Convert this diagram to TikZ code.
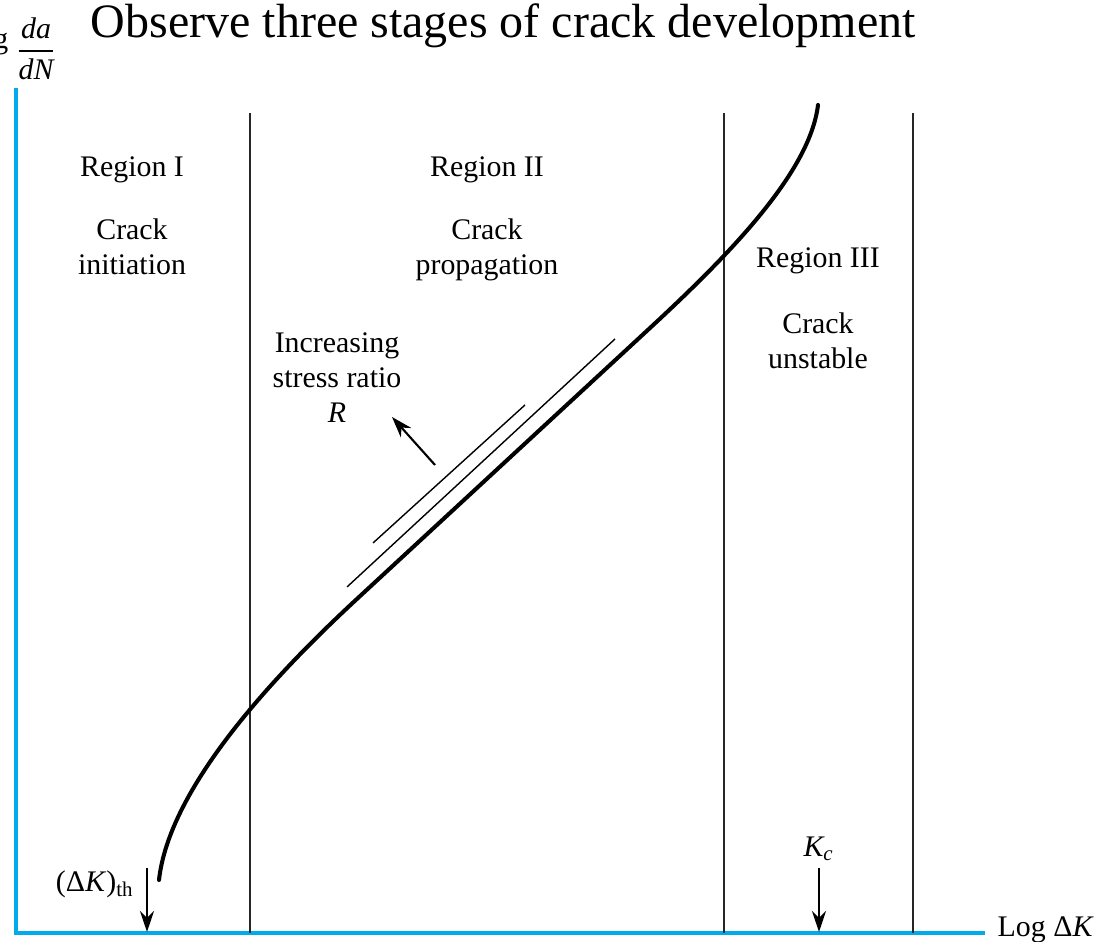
\documentclass[tikz,border=0pt]{standalone}
\usepackage{fontspec}
\setmainfont{Liberation Serif}
\usetikzlibrary{arrows.meta}
\definecolor{axisblue}{RGB}{0,170,235}
\newcommand{\lblsize}{\fontsize{8.5}{9.96}\selectfont}
\begin{document}
\begin{tikzpicture}[
    lbl/.style={inner sep=0pt, font=\lblsize, align=center},
    regionline/.style={line width=0.6pt, color=black!85},
    downarrow/.style={-{Stealth[length=6pt,width=4pt]}, line width=0.6pt},
  ]
    \useasboundingbox (0,0) rectangle (11.05,9.42);
    % axes
    \coordinate (origin) at (0.16,0.09);
    \coordinate (ytop) at (0.16,8.54);
    \coordinate (xend) at (9.85,0.09);
    \draw[line width=0.95pt, color=axisblue] (ytop) -- (origin) -- (xend);
    % region boundaries
    \foreach \x in {2.50, 7.24, 9.13} {
        \draw[regionline] (\x,0.09) -- (\x,8.29);
    }
    % da/dN curve
    \draw[line width=1.15pt, line cap=round] (1.59,0.62) .. controls (1.69,1.52) and (2.68,2.61) .. (3.58,3.44)
        -- (6.50,6.14) .. controls (7.30,6.88) and (8.10,7.70) .. (8.18,8.37);
    \draw[line width=0.4pt] (3.47,3.55) -- (6.15,6.03);
    \draw[line width=0.4pt] (3.73,3.99) -- (5.25,5.37);
    % labels
    \node[anchor=base west, inner sep=0pt, font=\fontsize{13.66}{16}\selectfont] (title) at (0.90,9.04) {Observe three stages of crack development};
    \node[anchor=base east, inner sep=0pt, font=\lblsize] (logy) at (0.09,8.93) {Log};
    \node[inner sep=0pt, font=\lblsize] (dadn) at (0.36,8.935) {$\displaystyle\frac{\mbox{\itshape da}}{\mbox{\itshape dN}}$};
    \node[lbl, anchor=base] (reg1) at (1.32,7.65) {Region I};
    \node[lbl, anchor=base] (reg1txt) at (1.32,6.67) {Crack\\initiation};
    \node[lbl, anchor=base] (reg2) at (4.87,7.65) {Region II};
    \node[lbl, anchor=base] (reg2txt) at (4.87,6.67) {Crack\\propagation};
    \node[lbl, anchor=base] (reg3) at (8.18,6.74) {Region III};
    \node[lbl, anchor=base] (reg3txt) at (8.18,5.73) {Crack\\unstable};
    \node[lbl, anchor=base] (ratio) at (3.37,5.19) {Increasing\\stress ratio\\\textit{R}};
    \coordinate (rtail) at (4.35,4.77);
    \coordinate (rhead) at (3.92,5.25);
    \draw[downarrow] (rtail) -- (rhead);
    \node[lbl, anchor=base east] (kth) at (1.35,0.50) {(Δ\textit{K})\textsubscript{th}};
    \coordinate (kthtop) at (1.47,0.74);
    \coordinate (kthbot) at (1.47,0.10);
    \draw[downarrow] (kthtop) -- (kthbot);
    \node[lbl, anchor=base] (kc) at (8.19,0.85) {\textit{K\textsubscript{c}}};
    \coordinate (kcbot) at (8.19,0.10);
    \draw[downarrow] (kc.south |- 0,0.74) -- (kcbot);
    \node[lbl, anchor=base west] (logdk) at (9.97,0.05) {Log Δ\textit{K}};
\end{tikzpicture}
\end{document}
